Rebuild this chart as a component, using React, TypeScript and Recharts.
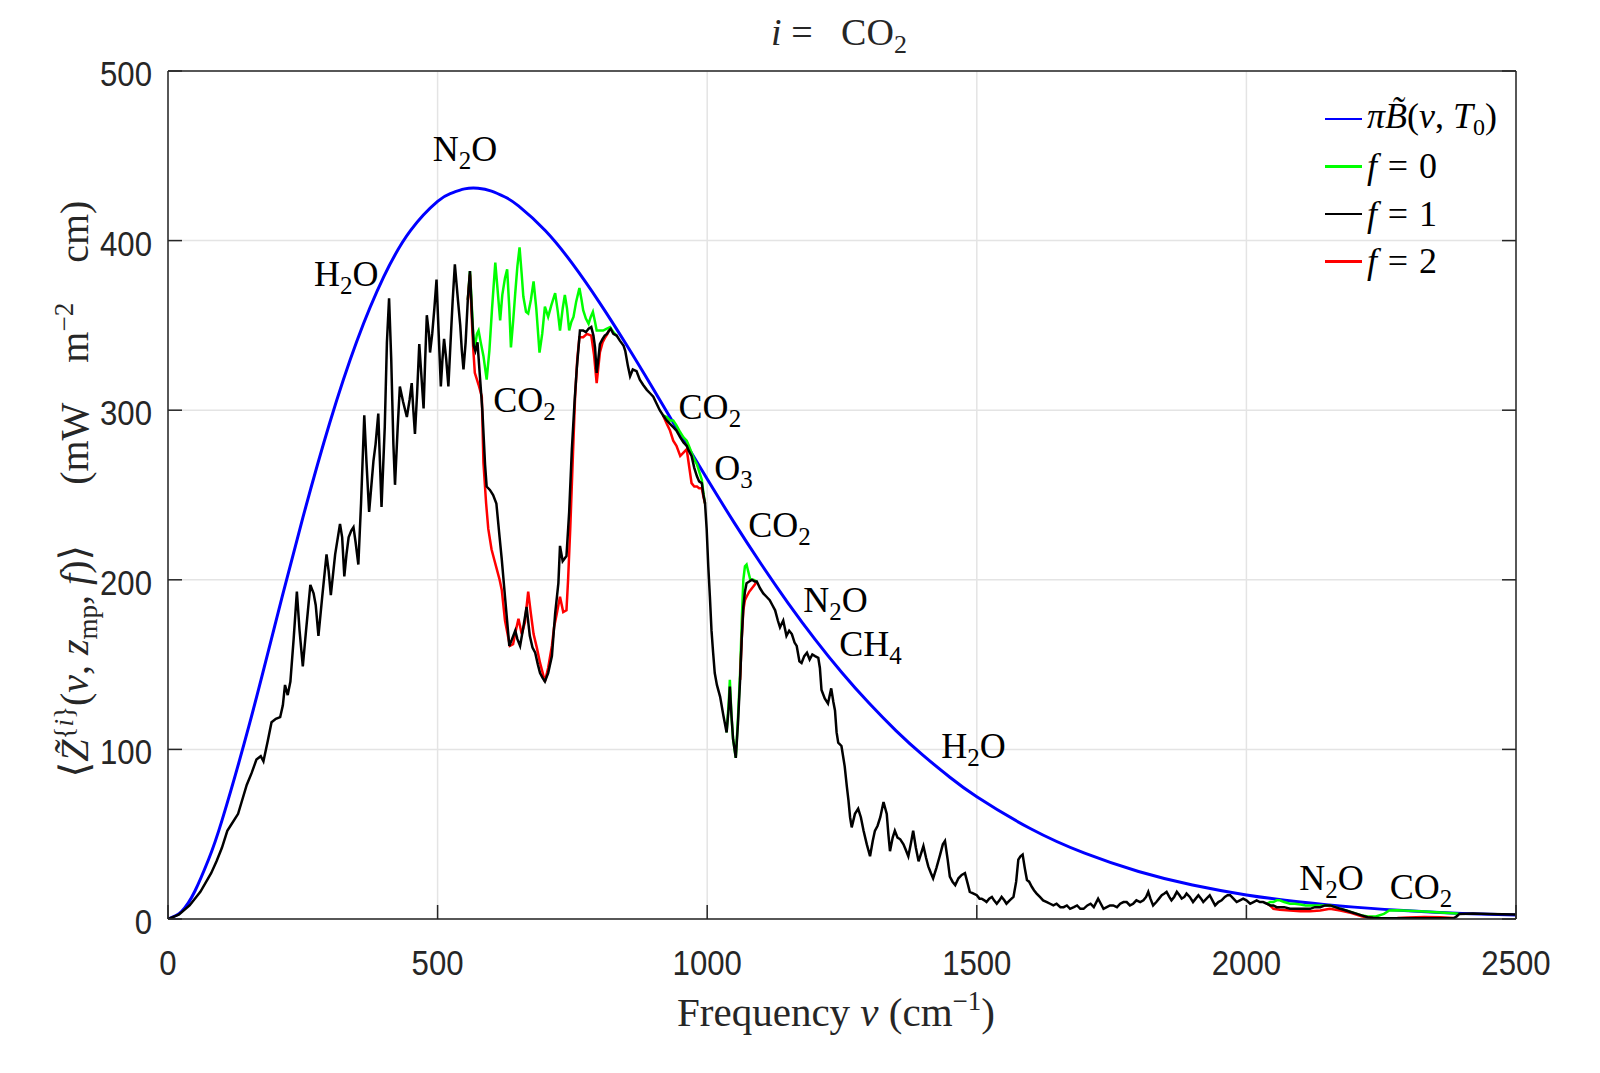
import React from 'react';
import { ComposedChart, Line, Scatter, XAxis, YAxis, CartesianGrid, Legend } from 'recharts';

const SERIF = '"Liberation Serif", "DejaVu Serif", serif';
const SANS = '"Liberation Sans", Arial, sans-serif';
const AXIS = '#262626';

const xTicks = [0, 500, 1000, 1500, 2000, 2500];
const yTicks = [0, 100, 200, 300, 400, 500];

// pi * B(nu, T0)
const planckPoints: [number, number][] = [
  [0, 0], [25, 4.4], [50, 16.5], [75, 34.9], [100, 58], [150, 113.7], [200, 175.4], [250, 236.5],
  [300, 292.6], [350, 340.5], [400, 378.6], [450, 406], [500, 423.1], [525, 427.9], [550, 430.5],
  [575, 430.9], [600, 429.2], [625, 425.7], [650, 420.5], [700, 405.8], [750, 386.4], [800, 363.6],
  [850, 338.7], [900, 312.5], [950, 285.8], [1000, 259.4], [1050, 233.7], [1100, 209.3], [1150, 186.3],
  [1200, 164.9], [1250, 145.2], [1300, 127.3], [1350, 111.1], [1400, 96.6], [1450, 83.6], [1500, 72.1],
  [1600, 53.2], [1700, 38.8], [1800, 28], [1900, 20], [2000, 14.2], [2100, 10], [2200, 7], [2300, 4.8],
  [2400, 3.3], [2500, 2.3],
];

// f = 1 (black)
const f1Rise: [number, number][] = [
  [0, 0], [20, 2.5], [40, 8], [60, 16], [80, 27], [90, 34], [100, 42], [110, 52], [118, 56], [130, 62],
  [146, 79], [155, 86], [164, 94], [172, 96], [177, 93], [185, 105], [192, 116], [200, 118], [208, 119],
  [213, 126], [217, 138], [222, 132], [227, 140], [233, 165], [239, 193], [244, 170], [250, 149],
  [256, 170], [264, 197], [270, 192], [274, 185], [279, 167], [286, 190], [294, 215], [298, 205],
  [302, 191], [310, 215], [319, 233], [323, 225], [327, 202], [331, 215], [335, 225], [340, 229],
  [344, 231], [348, 222], [353, 209], [358, 245], [364, 297], [368, 270], [373, 240], [377, 255],
  [381, 270], [385, 280], [390, 298], [393, 270], [396, 243], [402, 290], [406, 340], [410, 366],
  [414, 330], [418, 280], [421, 256], [426, 290], [430, 314], [436, 305], [443, 296], [448, 306],
  [452, 316], [455, 300], [458, 286], [462, 310], [466, 339], [470, 320], [474, 301], [477, 330],
  [480, 356], [484, 345], [486, 334], [490, 345], [494, 360], [498, 377], [502, 345], [506, 314],
  [509, 330], [512, 342], [516, 330], [520, 314], [524, 340], [528, 365], [532, 386], [535, 375],
  [538, 364], [542, 350], [545, 335], [548, 324], [552, 340], [556, 365], [560, 382],
];
const f1Band: [number, number][] = [
  [564, 355], [567, 338], [570, 335], [574, 340], [578, 322], [583, 300], [588, 268], [591, 255],
  [597, 253], [603, 250], [609, 245], [615, 225], [619, 212], [625, 190], [633, 161], [638, 165],
  [644, 170], [648, 165], [653, 161], [659, 172], [665, 184], [671, 167], [676, 160], [681, 157],
  [686, 150], [690, 145], [695, 142], [699, 140], [705, 145], [712, 155], [718, 180], [724, 198],
  [727, 220], [732, 211], [739, 214], [744, 240], [749, 277], [754, 305], [758, 324], [764, 347],
  [770, 347], [775, 346], [780, 348], [785, 349], [789, 344], [792, 337], [795, 322], [798, 330],
  [801, 339], [806, 342], [810, 344], [814, 345], [818, 347], [821, 348], [826, 345], [832, 344],
  [838, 341],
];
const f1Window: [number, number][] = [
  [845, 338], [848, 335], [853, 326], [857, 320], [862, 324], [869, 323], [875, 318], [881, 315],
  [888, 312], [894, 310], [900, 308], [906, 304], [912, 300], [918, 297], [925, 294], [931, 292],
  [937, 290], [943, 288], [950, 284], [956, 281], [962, 279], [966, 276], [971, 273], [976, 266],
  [981, 261], [985, 258], [990, 257], [993, 250], [996, 245], [999, 230], [1002, 208], [1005, 190],
  [1008, 170], [1011, 157], [1014, 145], [1018, 138], [1024, 131], [1030, 120], [1036, 110],
  [1040, 125], [1042, 137], [1045, 120], [1048, 106], [1053, 95], [1057, 115], [1061, 141],
  [1064, 165], [1067, 184], [1070, 193], [1073, 198], [1078, 199], [1083, 200], [1088, 199],
  [1092, 199], [1098, 195], [1104, 192], [1110, 190], [1116, 188], [1121, 185], [1126, 182],
  [1131, 176], [1135, 172], [1141, 176], [1147, 167], [1152, 170], [1157, 168], [1162, 163],
  [1166, 161], [1171, 152], [1175, 151], [1180, 155], [1185, 157], [1190, 153], [1195, 156],
  [1200, 155], [1206, 154], [1209, 148], [1212, 135], [1218, 130], [1224, 127], [1230, 136],
  [1234, 128], [1237, 123], [1240, 110], [1243, 104], [1249, 102],
];
const f1Tail: [number, number][] = [
  [1255, 90], [1259, 78], [1262, 70], [1265, 60], [1268, 54], [1271, 58], [1274, 62], [1280, 65],
  [1285, 60], [1290, 52], [1296, 44], [1302, 37], [1307, 46], [1311, 52], [1316, 55], [1321, 60],
  [1327, 69], [1333, 62], [1336, 50], [1339, 40], [1344, 48], [1348, 52], [1353, 48], [1358, 47],
  [1364, 44], [1368, 41], [1373, 37], [1378, 45], [1382, 52], [1387, 42], [1392, 34], [1396, 38],
  [1401, 43], [1406, 36], [1410, 31], [1415, 27], [1419, 24], [1425, 30], [1432, 38], [1437, 44],
  [1441, 46], [1446, 35], [1450, 25], [1455, 22], [1460, 20], [1466, 24], [1472, 26], [1478, 27],
  [1483, 21], [1487, 16], [1494, 15], [1500, 14], [1505, 12], [1509, 12], [1514, 11], [1518, 10],
  [1523, 12], [1528, 13], [1532, 11], [1537, 9], [1542, 11], [1546, 13], [1551, 11], [1555, 9],
  [1561, 11], [1568, 13], [1573, 22], [1577, 35], [1581, 37], [1585, 38], [1589, 30], [1593, 23],
  [1597, 22], [1602, 19], [1606, 17], [1611, 15], [1617, 13], [1623, 11], [1630, 10], [1636, 9],
  [1642, 8], [1648, 9], [1655, 7], [1661, 7], [1667, 8], [1673, 6], [1680, 7], [1686, 8], [1692, 6],
  [1698, 6], [1705, 8], [1711, 9], [1717, 7], [1725, 12], [1730, 9], [1735, 6], [1741, 7], [1747, 8],
  [1753, 8], [1760, 7], [1766, 9], [1772, 10], [1778, 10], [1784, 8], [1790, 9], [1796, 11],
  [1803, 10], [1809, 11], [1814, 13], [1818, 16], [1822, 12], [1827, 8], [1833, 10], [1838, 12],
  [1843, 14], [1848, 15], [1852, 16], [1857, 13], [1861, 11], [1866, 13], [1871, 16], [1876, 14],
  [1880, 12], [1885, 13], [1889, 15], [1895, 13], [1901, 10], [1906, 12], [1911, 14], [1916, 12],
  [1920, 10], [1926, 12], [1932, 14], [1937, 11], [1942, 8], [1948, 10], [1954, 11], [1960, 13],
  [1965, 14], [1970, 14], [1976, 12], [1982, 10], [1988, 11], [1994, 12], [2000, 11], [2007, 9],
  [2013, 10], [2019, 11], [2025, 10], [2031, 10], [2038, 9], [2044, 8], [2050, 8], [2056, 7],
  [2062, 7], [2070, 7], [2081, 6], [2090, 6], [2100, 6], [2110, 6], [2118, 6], [2127, 7], [2137, 7],
  [2146, 8], [2155, 8], [2165, 7], [2174, 6], [2185, 5], [2195, 4], [2205, 3], [2215, 2], [2225, 1],
  [2235, 0.7], [2250, 0.5], [2300, 0.5], [2350, 0.5], [2385, 0.6], [2390, 1.5], [2395, 3],
  [2420, 3.2], [2450, 2.9], [2500, 2.6],
];

// f = 0 (green), only where it departs from f = 1
const f0Band: [number, number][] = [
  [556, 365], [560, 382], [564, 358], [566, 345], [569, 337], [573, 345], [576, 347], [580, 340],
  [585, 332], [591, 318], [596, 335], [601, 360], [607, 387], [611, 372], [616, 353], [620, 368],
  [625, 378], [629, 383], [633, 360], [636, 337], [640, 352], [644, 369], [648, 385], [652, 396],
  [656, 380], [659, 367], [664, 358], [668, 357], [673, 365], [678, 376], [683, 360], [689, 334],
  [694, 345], [699, 361], [705, 355], [711, 362], [718, 369], [723, 358], [727, 347], [732, 360],
  [736, 368], [740, 360], [744, 347], [748, 352], [752, 355], [757, 364], [763, 372], [767, 365],
  [770, 359], [775, 354], [780, 351], [784, 355], [788, 358], [792, 352], [795, 347], [801, 347],
  [807, 347], [813, 348], [820, 349], [826, 346], [832, 344],
];
const f0Window: [number, number][] = [
  [918, 297], [925, 296], [931, 294], [937, 294], [943, 291], [950, 287], [956, 284], [962, 282],
  [966, 279], [971, 275], [976, 271], [981, 268], [985, 264], [990, 259], [993, 251], [996, 245],
];
const f0Ozone: [number, number][] = [
  [1036, 110], [1040, 128], [1042, 141], [1045, 120], [1048, 106], [1053, 95], [1057, 118],
  [1061, 145], [1064, 175], [1067, 200], [1070, 208], [1073, 209], [1076, 205], [1080, 200],
  [1086, 200], [1092, 199],
];
const f0Tail: [number, number][] = [
  [2038, 9], [2044, 10], [2050, 10], [2056, 11], [2062, 11], [2070, 10], [2081, 9], [2090, 9],
  [2100, 8.5], [2110, 8], [2118, 8], [2127, 8], [2137, 8], [2146, 8], [2155, 8], [2165, 7], [2174, 6],
  [2185, 5], [2195, 4], [2205, 3], [2215, 2], [2225, 1.5], [2240, 1.5], [2255, 3], [2265, 5],
  [2280, 5.2], [2300, 4.9], [2330, 4.4], [2360, 3.8], [2390, 3.3], [2395, 3],
];

// f = 2 (red), only where it departs from f = 1
const f2Band: [number, number][] = [
  [556, 365], [560, 380], [564, 350], [566, 337], [569, 322], [576, 315], [582, 308], [585, 269],
  [590, 245], [594, 230], [600, 218], [605, 212], [610, 206], [615, 200], [619, 194], [625, 176],
  [634, 161], [640, 162], [645, 170], [650, 177], [656, 168], [662, 175], [668, 193], [673, 180],
  [678, 168], [684, 160], [690, 151], [695, 145], [699, 140], [705, 148], [712, 161], [716, 172],
  [721, 180], [727, 190], [733, 181], [739, 182], [742, 200], [746, 230], [750, 265], [755, 308],
  [759, 330], [763, 343], [770, 343], [777, 345], [785, 344], [790, 333], [795, 316], [801, 334],
  [806, 340], [811, 343], [815, 345], [818, 347],
];
const f2Window: [number, number][] = [
  [918, 297], [925, 292], [931, 288], [937, 282], [943, 279], [950, 273], [956, 275], [962, 277],
  [966, 268], [971, 257], [976, 255], [981, 255], [985, 254], [990, 254], [993, 249], [996, 245],
];
const f2Ozone: [number, number][] = [
  [1061, 141], [1064, 165], [1067, 182], [1070, 188], [1073, 190], [1078, 193], [1083, 195],
  [1088, 197], [1092, 199],
];
const f2Tail: [number, number][] = [
  [2038, 9], [2044, 8], [2050, 6], [2062, 5.5], [2081, 5], [2100, 4.5], [2118, 4.5], [2137, 5],
  [2155, 6], [2174, 5], [2195, 3.5], [2215, 1.5], [2235, 0.5], [2280, 0.6], [2300, 0.9], [2330, 1.2],
  [2360, 1.1], [2385, 0.6],
];

// gas labels: [nu, value, base, subscript, rest]
const gasLabels: [number, number, string, string, string][] = [
  [491, 447, 'N', '2', 'O'],
  [271, 373, 'H', '2', 'O'],
  [603, 299, 'CO', '2', ''],
  [947, 295, 'CO', '2', ''],
  [1013, 259, 'O', '3', ''],
  [1076, 225, 'CO', '2', ''],
  [1178, 181, 'N', '2', 'O'],
  [1245, 155, 'CH', '4', ''],
  [1434, 95, 'H', '2', 'O'],
  [2098, 17, 'N', '2', 'O'],
  [2266, 12, 'CO', '2', ''],
];

const toRows = (pts: [number, number][]) => pts.map(([nu, v]) => ({ nu, v }));
const joinSegments = (segs: [number, number][][]) => {
  const out: { nu: number; v: number | null }[] = [];
  segs.forEach((s, i) => {
    if (i > 0) out.push({ nu: (segs[i - 1][segs[i - 1].length - 1][0] + s[0][0]) / 2, v: null });
    out.push(...toRows(s));
  });
  return out;
};

const planckData = toRows(planckPoints);
const f1Data = toRows([...f1Rise, ...f1Band, ...f1Window, ...f1Tail]);
const f0Data = joinSegments([f0Band, f0Window, f0Ozone, f0Tail]);
const f2Data = joinSegments([f2Band, f2Window, f2Ozone, f2Tail]);
const labelData = gasLabels.map(([nu, v, base, sub, rest]) => ({ nu, v, base, sub, rest }));

const BottomTick = (props: any) => {
  const { x, y, payload } = props;
  return (
    <g>
      <line x1={x} x2={x} y1={y} y2={y - 14} stroke={AXIS} strokeWidth={1.5} />
      <text transform={`translate(${x},${y + 56}) scale(0.89,1)`} textAnchor="middle" fontFamily={SANS} fontSize={35} fill={AXIS}>
        {payload.value}
      </text>
    </g>
  );
};
const TopTick = (props: any) => {
  const { x, y } = props;
  return <line x1={x} x2={x} y1={y} y2={y + 14} stroke={AXIS} strokeWidth={1.5} />;
};
const LeftTick = (props: any) => {
  const { x, y, payload } = props;
  return (
    <g>
      <line x1={x} x2={x + 14} y1={y} y2={y} stroke={AXIS} strokeWidth={1.5} />
      <text transform={`translate(${x - 16},${y + 15}) scale(0.89,1)`} textAnchor="end" fontFamily={SANS} fontSize={35} fill={AXIS}>
        {payload.value}
      </text>
    </g>
  );
};
const RightTick = (props: any) => {
  const { x, y } = props;
  return <line x1={x} x2={x - 14} y1={y} y2={y} stroke={AXIS} strokeWidth={1.5} />;
};

const XLabel = (props: any) => {
  const vb = props.viewBox;
  return (
    <text x={vb.x + vb.width / 2 - 6} y={vb.y + 107} textAnchor="middle" fontFamily={SERIF} fontSize={41} fill={AXIS}>
      <tspan>Frequency </tspan>
      <tspan fontStyle="italic">ν</tspan>
      <tspan> (cm</tspan>
      <tspan dy={-16} fontSize={27}>−1</tspan>
      <tspan dy={16}>)</tspan>
    </text>
  );
};

const TitleLabel = (props: any) => {
  const vb = props.viewBox;
  return (
    <text x={vb.x + vb.width / 2 - 3} y={vb.y - 25} textAnchor="middle" fontFamily={SERIF} fontSize={38} fill={AXIS}>
      <tspan fontStyle="italic">i</tspan>
      <tspan>{' =\u2002 CO'}</tspan>
      <tspan dy={8} fontSize={26}>2</tspan>
    </text>
  );
};

const YLabel = (props: any) => {
  const vb = props.viewBox;
  const cx = vb.x + 80;
  const cy = vb.y + vb.height / 2 - 6;
  return (
    <text transform={`translate(${cx},${cy}) rotate(-90)`} textAnchor="middle" fontFamily={SERIF} fontSize={40} fill={AXIS}>
      <tspan>⟨</tspan>
      <tspan fontStyle="italic">Z̃</tspan>
      <tspan dy={-15} fontSize={27}>{'{'}</tspan>
      <tspan fontSize={27} fontStyle="italic">i</tspan>
      <tspan fontSize={27}>{'}'}</tspan>
      <tspan dy={15}>(</tspan>
      <tspan fontStyle="italic">ν</tspan>
      <tspan>{', '}</tspan>
      <tspan fontStyle="italic">z</tspan>
      <tspan dy={9} fontSize={27}>mp</tspan>
      <tspan dy={-9}>{', '}</tspan>
      <tspan fontStyle="italic">f</tspan>
      <tspan>{')⟩\u2003\u2002(mW\u2003m'}</tspan>
      <tspan dy={-15} fontSize={27}>−2</tspan>
      <tspan dy={15}>{'\u2003cm)'}</tspan>
    </text>
  );
};

const GasLabel = (props: any) => {
  const { cx, cy, payload } = props;
  return (
    <text x={cx} y={cy} fontFamily={SERIF} fontSize={36} fill="#000">
      <tspan>{payload.base}</tspan>
      <tspan dy={8} fontSize={25}>{payload.sub}</tspan>
      {payload.rest ? <tspan dy={-8}>{payload.rest}</tspan> : null}
    </text>
  );
};

const legendOrder = ['planck', 'f0', 'f1', 'f2'];
const eq = (n: string) => (
  <span>
    <i>f</i>
    <span style={{ margin: '0 0.3em' }}>=</span>
    {n}
  </span>
);
const legendText: Record<string, React.ReactNode> = {
  planck: (
    <span>
      <i>π</i><i>B̃</i>(<i>ν</i>, <i>T</i>
      <sub style={{ fontSize: 24, verticalAlign: '-0.3em' }}>0</sub>)
    </span>
  ),
  f0: eq('0'),
  f1: eq('1'),
  f2: eq('2'),
};

const renderLegend = (props: any) => {
  const items = [...(props.payload || [])]
    .filter((p: any) => legendOrder.includes(p.value))
    .sort((a: any, b: any) => legendOrder.indexOf(a.value) - legendOrder.indexOf(b.value));
  return (
    <div style={{ fontFamily: SERIF, fontSize: 36, color: '#000' }}>
      {items.map((it: any) => (
        <div key={it.value} style={{ display: 'flex', alignItems: 'center', height: 47.5, lineHeight: 1, whiteSpace: 'nowrap' }}>
          <span style={{ display: 'inline-block', width: 37, height: 2.5, background: it.color, marginRight: 5 }} />
          {legendText[it.value]}
        </div>
      ))}
    </div>
  );
};

export default function App() {
  return (
    <div style={{ width: 1584, height: 1057, background: '#fff' }}>
      <ComposedChart width={1584} height={1057} margin={{ top: 62, right: 75, bottom: 86, left: 0 }}>
        <CartesianGrid stroke="#e4e4e4" strokeWidth={1.5} />
        <XAxis
          xAxisId={0}
          dataKey="nu"
          type="number"
          domain={[0, 2500]}
          ticks={xTicks}
          allowDataOverflow
          tick={<BottomTick />}
          tickLine={false}
          tickSize={0}
          tickMargin={0}
          height={60}
          axisLine={{ stroke: AXIS, strokeWidth: 1.5 }}
          label={<XLabel />}
        />
        <XAxis
          xAxisId="top"
          orientation="top"
          type="number"
          domain={[0, 2500]}
          ticks={xTicks}
          allowDataOverflow
          tick={<TopTick />}
          tickLine={false}
          tickSize={0}
          tickMargin={0}
          height={1}
          axisLine={{ stroke: AXIS, strokeWidth: 1.5 }}
          label={<TitleLabel />}
        />
        <YAxis
          yAxisId={0}
          type="number"
          domain={[0, 500]}
          ticks={yTicks}
          allowDataOverflow
          tick={<LeftTick />}
          tickLine={false}
          tickSize={0}
          tickMargin={0}
          width={160}
          axisLine={{ stroke: AXIS, strokeWidth: 1.5 }}
          label={<YLabel />}
        />
        <YAxis
          yAxisId="right"
          orientation="right"
          type="number"
          domain={[0, 500]}
          ticks={yTicks}
          allowDataOverflow
          tick={<RightTick />}
          tickLine={false}
          tickSize={0}
          tickMargin={0}
          width={1}
          axisLine={{ stroke: AXIS, strokeWidth: 1.5 }}
        />
        <Line data={planckData} dataKey="v" name="planck" type="natural" stroke="#0000ff" strokeWidth={3} dot={false} activeDot={false} isAnimationActive={false} />
        <Line data={f0Data} dataKey="v" name="f0" type="linear" stroke="#00ff00" strokeWidth={2.5} dot={false} activeDot={false} connectNulls={false} isAnimationActive={false} />
        <Line data={f2Data} dataKey="v" name="f2" type="linear" stroke="#ff0000" strokeWidth={2.5} dot={false} activeDot={false} connectNulls={false} isAnimationActive={false} />
        <Line data={f1Data} dataKey="v" name="f1" type="linear" stroke="#000000" strokeWidth={2.5} dot={false} activeDot={false} isAnimationActive={false} />
        <Scatter data={labelData} dataKey="v" legendType="none" isAnimationActive={false} shape={(p: any) => <GasLabel {...p} />} />
        <Legend
          content={renderLegend}
          layout="horizontal"
          verticalAlign="middle"
          align="center"
          wrapperStyle={{ left: 1317, top: 87, width: 240 }}
        />
      </ComposedChart>
    </div>
  );
}
